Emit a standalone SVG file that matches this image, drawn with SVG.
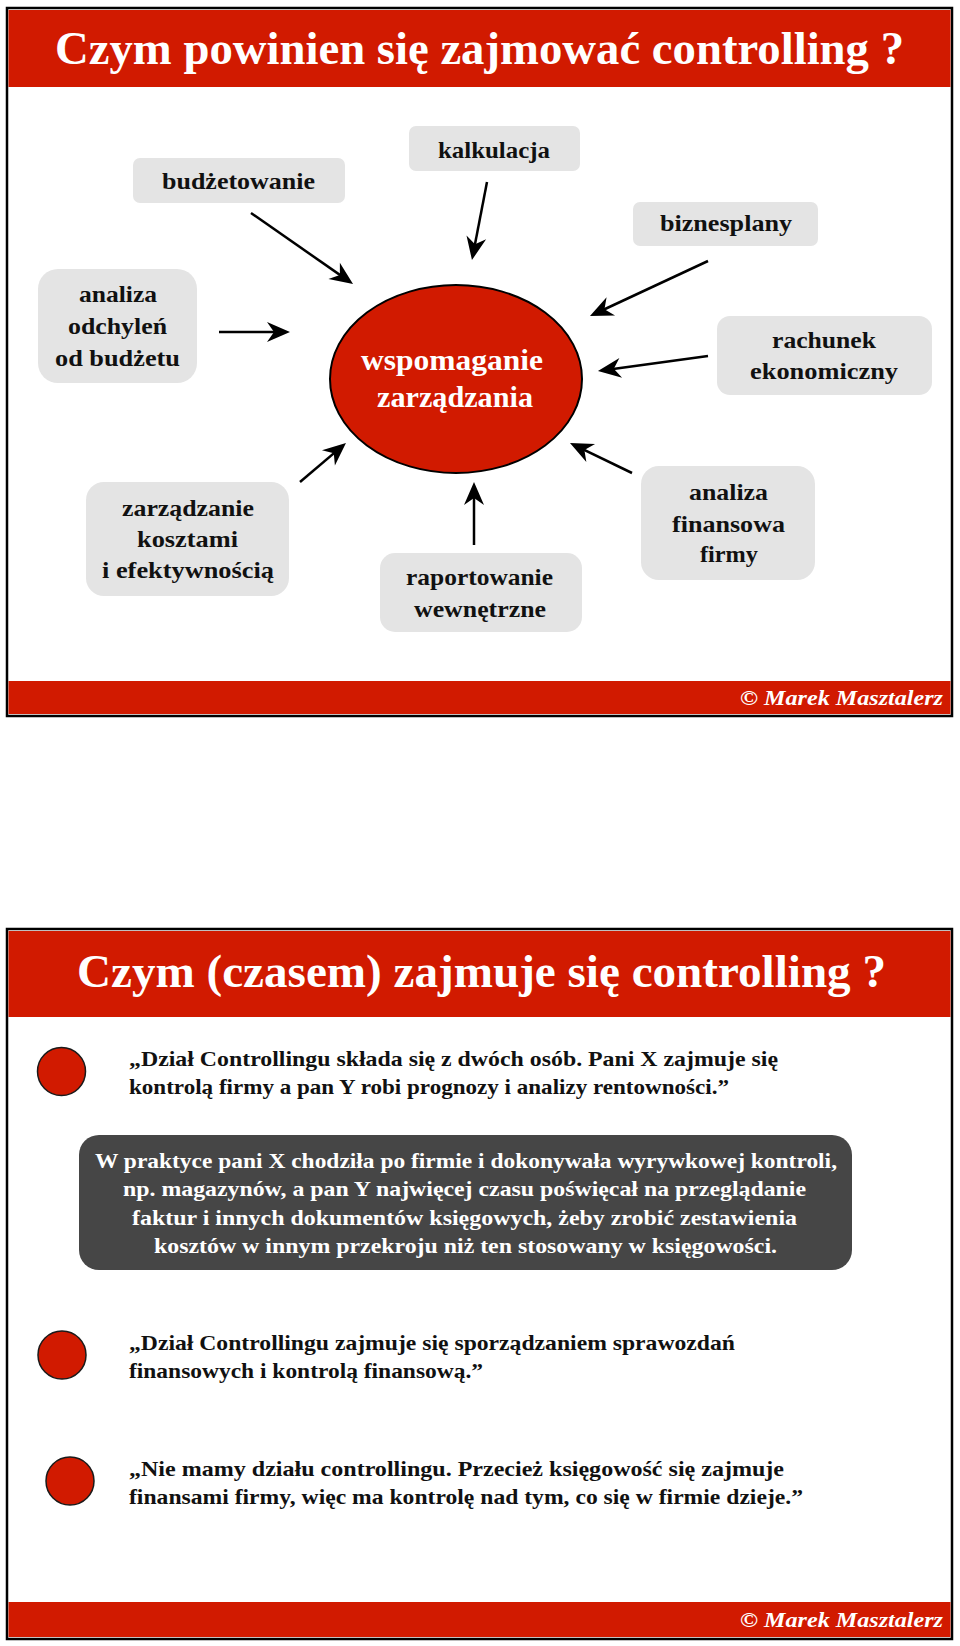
<svg xmlns="http://www.w3.org/2000/svg" width="960" height="1646" viewBox="0 0 960 1646">
<style>
.frame{fill:#ffffff;stroke:#000000;stroke-width:2.5}
.band{fill:#d11a00}
.title{font-family:"Liberation Serif",serif;font-weight:bold;font-size:46px;fill:#ffffff;text-anchor:middle}
.foot{font-family:"Liberation Serif",serif;font-weight:bold;font-style:italic;font-size:22px;fill:#ffffff;text-anchor:end}
.box{fill:#e4e4e4}
.lbl{font-family:"Liberation Serif",serif;font-weight:bold;font-size:24px;fill:#111111;text-anchor:middle}
.hub{fill:#d11a00;stroke:#000000;stroke-width:2}
.hubt{font-family:"Liberation Serif",serif;font-weight:bold;font-size:30px;fill:#ffffff;text-anchor:middle}
.conn{stroke:#000000;stroke-width:2.5;fill:none;marker-end:url(#ah)}
.bul{fill:#d11a00;stroke:#1a1a1a;stroke-width:1.5}
.body{font-family:"Liberation Serif",serif;font-weight:bold;font-size:22px;fill:#111111}
.dark{fill:#464646}
.bodyw{font-family:"Liberation Serif",serif;font-weight:bold;font-size:22px;fill:#ffffff;text-anchor:middle}
</style>
<defs>
<marker id="ah" markerUnits="userSpaceOnUse" markerWidth="30" markerHeight="20" refX="23" refY="10" orient="auto" overflow="visible">
<path d="M29,10 L6,0 L13,10 L6,20 Z" fill="#000000"/>
</marker>
</defs>
<rect width="960" height="1646" fill="#ffffff"/>

<!-- Slide 1 -->
<g id="slide1">
<rect class="frame" x="7" y="8" width="945" height="708"/>
<rect class="band" x="8.5" y="10" width="942" height="77"/>
<text class="title" x="479.5" y="64" textLength="849" lengthAdjust="spacingAndGlyphs">Czym powinien się zajmować controlling ?</text>
<rect class="band" x="8.5" y="681" width="942" height="33"/>
<text class="foot" x="943" y="705" textLength="203" lengthAdjust="spacingAndGlyphs">© Marek Masztalerz</text>
</g>

<g id="connectors">
<line class="conn" x1="219" y1="332" x2="284" y2="332"/>
<line class="conn" x1="251" y1="213" x2="348.1" y2="280.6"/>
<line class="conn" x1="487" y1="182" x2="473.1" y2="254.1"/>
<line class="conn" x1="708" y1="261" x2="595.4" y2="313.5"/>
<line class="conn" x1="708" y1="356" x2="603.9" y2="370.2"/>
<line class="conn" x1="632" y1="473" x2="575.4" y2="445.6"/>
<line class="conn" x1="474" y1="545" x2="474" y2="488"/>
<line class="conn" x1="300" y1="482" x2="341.4" y2="446.9"/>
</g>

<g id="hub">
<ellipse class="hub" cx="456" cy="379" rx="126" ry="94"/>
<text class="hubt" x="452" y="370" textLength="182" lengthAdjust="spacingAndGlyphs">wspomaganie</text>
<text class="hubt" x="455" y="407" textLength="156" lengthAdjust="spacingAndGlyphs">zarządzania</text>
</g>

<g id="budzetowanie">
<rect class="box" x="133" y="158" width="212" height="45" rx="7"/>
<text class="lbl" x="238.5" y="189" textLength="153" lengthAdjust="spacingAndGlyphs">budżetowanie</text>
</g>

<g id="kalkulacja">
<rect class="box" x="409" y="126" width="171" height="45" rx="7"/>
<text class="lbl" x="494" y="158" textLength="112" lengthAdjust="spacingAndGlyphs">kalkulacja</text>
</g>

<g id="biznesplany">
<rect class="box" x="633" y="202" width="185" height="44" rx="7"/>
<text class="lbl" x="726" y="231" textLength="132" lengthAdjust="spacingAndGlyphs">biznesplany</text>
</g>

<g id="analiza-odchylen">
<rect class="box" x="38" y="269" width="159" height="114" rx="20"/>
<text class="lbl" x="118" y="302" textLength="78" lengthAdjust="spacingAndGlyphs">analiza</text>
<text class="lbl" x="117.5" y="334" textLength="99" lengthAdjust="spacingAndGlyphs">odchyleń</text>
<text class="lbl" x="117.5" y="366" textLength="125" lengthAdjust="spacingAndGlyphs">od budżetu</text>
</g>

<g id="rachunek">
<rect class="box" x="717" y="316" width="215" height="79" rx="13"/>
<text class="lbl" x="824" y="348" textLength="104" lengthAdjust="spacingAndGlyphs">rachunek</text>
<text class="lbl" x="824" y="379" textLength="148" lengthAdjust="spacingAndGlyphs">ekonomiczny</text>
</g>

<g id="zarzadzanie">
<rect class="box" x="86" y="482" width="203" height="114" rx="18"/>
<text class="lbl" x="188" y="516" textLength="132" lengthAdjust="spacingAndGlyphs">zarządzanie</text>
<text class="lbl" x="187.5" y="547" textLength="101" lengthAdjust="spacingAndGlyphs">kosztami</text>
<text class="lbl" x="188" y="578" textLength="172" lengthAdjust="spacingAndGlyphs">i efektywnością</text>
</g>

<g id="raportowanie">
<rect class="box" x="380" y="553" width="202" height="79" rx="15"/>
<text class="lbl" x="479.5" y="585" textLength="147" lengthAdjust="spacingAndGlyphs">raportowanie</text>
<text class="lbl" x="480" y="617" textLength="132" lengthAdjust="spacingAndGlyphs">wewnętrzne</text>
</g>

<g id="analiza-finansowa">
<rect class="box" x="641" y="466" width="174" height="114" rx="18"/>
<text class="lbl" x="728.5" y="500" textLength="79" lengthAdjust="spacingAndGlyphs">analiza</text>
<text class="lbl" x="728.5" y="532" textLength="113" lengthAdjust="spacingAndGlyphs">finansowa</text>
<text class="lbl" x="729" y="562" textLength="58" lengthAdjust="spacingAndGlyphs">firmy</text>
</g>

<!-- Slide 2 -->
<g id="slide2">
<rect class="frame" x="7" y="929" width="945" height="710"/>
<rect class="band" x="8.5" y="931" width="942" height="86"/>
<text class="title" x="481.5" y="987" textLength="809" lengthAdjust="spacingAndGlyphs">Czym (czasem) zajmuje się controlling ?</text>
<rect class="band" x="8.5" y="1602" width="942" height="35"/>
<text class="foot" x="943" y="1627" textLength="203" lengthAdjust="spacingAndGlyphs">© Marek Masztalerz</text>
</g>

<g id="quote1">
<ellipse class="bul" cx="61.5" cy="1071.5" rx="24" ry="24"/>
<text class="body" x="129" y="1066" textLength="649" lengthAdjust="spacingAndGlyphs">„Dział Controllingu składa się z dwóch osób. Pani X zajmuje się</text>
<text class="body" x="129" y="1094" textLength="600" lengthAdjust="spacingAndGlyphs">kontrolą firmy a pan Y robi prognozy i analizy rentowności.”</text>
</g>

<g id="practice">
<rect class="dark" x="79" y="1135" width="773" height="135" rx="20"/>
<text class="bodyw" x="466" y="1168" textLength="742" lengthAdjust="spacingAndGlyphs">W praktyce pani X chodziła po firmie i dokonywała wyrywkowej kontroli,</text>
<text class="bodyw" x="464.5" y="1196" textLength="683" lengthAdjust="spacingAndGlyphs">np. magazynów, a pan Y najwięcej czasu poświęcał na przeglądanie</text>
<text class="bodyw" x="464.5" y="1225" textLength="665" lengthAdjust="spacingAndGlyphs">faktur i innych dokumentów księgowych, żeby zrobić zestawienia</text>
<text class="bodyw" x="465.5" y="1253" textLength="623" lengthAdjust="spacingAndGlyphs">kosztów w innym przekroju niż ten stosowany w księgowości.</text>
</g>

<g id="quote2">
<ellipse class="bul" cx="62" cy="1355" rx="24" ry="24"/>
<text class="body" x="129" y="1350" textLength="606" lengthAdjust="spacingAndGlyphs">„Dział Controllingu zajmuje się sporządzaniem sprawozdań</text>
<text class="body" x="129" y="1378" textLength="354" lengthAdjust="spacingAndGlyphs">finansowych i kontrolą finansową.”</text>
</g>

<g id="quote3">
<ellipse class="bul" cx="70" cy="1481" rx="24" ry="24"/>
<text class="body" x="129" y="1476" textLength="655" lengthAdjust="spacingAndGlyphs">„Nie mamy działu controllingu. Przecież księgowość się zajmuje</text>
<text class="body" x="129" y="1504" textLength="674" lengthAdjust="spacingAndGlyphs">finansami firmy, więc ma kontrolę nad tym, co się w firmie dzieje.”</text>
</g>
</svg>
